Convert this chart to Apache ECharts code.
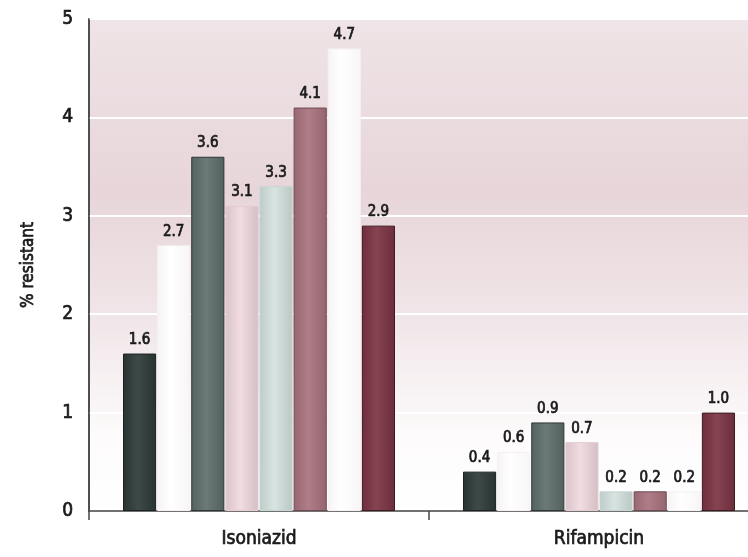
<!DOCTYPE html>
<html>
<head>
<meta charset="utf-8">
<script src="https://cdn.jsdelivr.net/npm/echarts@6/dist/echarts.min.js"></script>
<style>
  html, body { margin: 0; padding: 0; background: #ffffff; overflow: hidden; width: 748px; height: 557px; }
  /* the plot runs a little past the right edge of the page */
  #chart { width: 769px; height: 557px; }
</style>
</head>
<body>
<div id="chart"></div>
<script>
// Drug categories on the x axis
const drugs = ['Isoniazid', 'Rifampicin'];

// Percent resistant, one entry per bar group (in bar order)
const isoniazid = [1.6, 2.7, 3.6, 3.1, 3.3, 4.1, 4.7, 2.9];
const rifampicin = [0.4, 0.6, 0.9, 0.7, 0.2, 0.2, 0.2, 1.0];

// Y axis tick values
const yTicks = [0, 1, 2, 3, 4, 5];

// Bar fill colours and outline colours
const barColors = ['#2d3a38', '#ffffff', '#5e6e6b', '#f0d9de', '#d3e2de', '#a8727e', '#ffffff', '#7b3343'];
const barBorders = ['#1b2120', '#f6f0f2', '#2e3634', '#e6ccd2', '#c6d6d2', '#6e4a52', '#f6f0f2', '#3e1a22'];

const FONT = "'DejaVu Sans Condensed', 'Liberation Sans Narrow', 'Arial Narrow', sans-serif";
const INK = '#1a1a1a';

// Semi-bold look: regular weight with a thin outline in the same ink
const semiBold = { fontFamily: FONT, color: INK, textBorderColor: INK, textBorderWidth: 0.7 };

function shade(hex, amt) {
  const n = parseInt(hex.slice(1), 16);
  let r = (n >> 16) & 255, g = (n >> 8) & 255, b = n & 255;
  const f = c => Math.max(0, Math.min(255, Math.round(c + (amt > 0 ? (255 - c) * amt : c * amt))));
  return 'rgb(' + f(r) + ',' + f(g) + ',' + f(b) + ')';
}

function barFill(hex) {
  if (hex === '#ffffff') {
    return new echarts.graphic.LinearGradient(0, 0, 1, 0, [
      { offset: 0, color: '#f7f3f4' },
      { offset: 0.4, color: '#ffffff' },
      { offset: 1, color: '#f8f5f6' }
    ]);
  }
  return new echarts.graphic.LinearGradient(0, 0, 1, 0, [
    { offset: 0, color: shade(hex, -0.1) },
    { offset: 0.45, color: shade(hex, 0.08) },
    { offset: 1, color: shade(hex, -0.12) }
  ]);
}

const series = barColors.map((c, i) => ({
  name: 'Group ' + (i + 1),
  type: 'bar',
  data: [isoniazid[i], rifampicin[i]],
  barGap: '3%',
  barCategoryGap: '20%',
  itemStyle: {
    color: barFill(c),
    borderColor: barBorders[i],
    borderWidth: 1
  },
  label: Object.assign({
    show: true,
    position: 'top',
    distance: 6,
    fontSize: 15,
    formatter: p => p.value.toFixed(1)
  }, semiBold)
}));

const chart = echarts.init(document.getElementById('chart'));
chart.setOption({
  animation: false,
  grid: {
    left: 89,
    top: 19,
    bottom: 46,
    right: 0,
    show: true,
    borderColor: '#444',
    borderWidth: 1.5,
    backgroundColor: new echarts.graphic.LinearGradient(0, 0, 0, 1, [
      { offset: 0, color: '#efe4e7' },
      { offset: 0.35, color: '#e7d5d9' },
      { offset: 0.6, color: '#f0e5e8' },
      { offset: 0.85, color: '#fdfbfb' },
      { offset: 1, color: '#ffffff' }
    ])
  },
  xAxis: {
    type: 'category',
    data: drugs,
    axisLine: { show: true, lineStyle: { color: '#444', width: 1.5 } },
    axisTick: { show: true, length: 9, lineStyle: { color: '#444', width: 1.5 } },
    axisLabel: Object.assign({ fontSize: 19, margin: 19 }, semiBold)
  },
  yAxis: {
    type: 'value',
    min: yTicks[0],
    max: yTicks[yTicks.length - 1],
    interval: 1,
    name: '% resistant',
    nameLocation: 'middle',
    nameGap: 52,
    nameTextStyle: Object.assign({ fontSize: 17 }, semiBold),
    axisLine: { show: true, lineStyle: { color: '#444', width: 1.5 } },
    axisTick: { show: false },
    axisLabel: Object.assign({ fontSize: 19, margin: 16 }, semiBold),
    splitLine: { show: true, lineStyle: { color: '#ffffff', width: 2 } }
  },
  series: series
});
</script>
</body>
</html>
